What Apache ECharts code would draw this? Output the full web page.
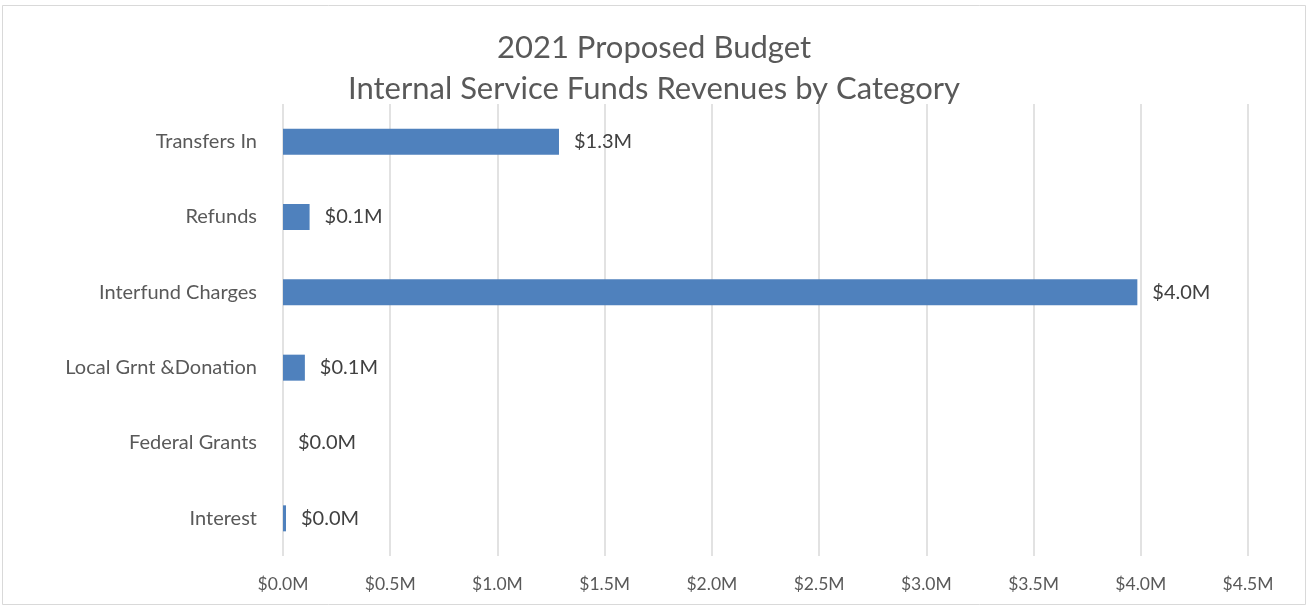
<!DOCTYPE html>
<html>
<head>
<meta charset="utf-8">
<script src="https://cdn.jsdelivr.net/npm/echarts@6/dist/echarts.min.js"></script>
<style>
html,body{margin:0;padding:0;background:#fff;}
#chart{width:1308px;height:608px;}
</style>
</head>
<body>
<div id="chart"></div>
<script>
const titleLines = ['2021 Proposed Budget', 'Internal Service Funds Revenues by Category'];
const categories = ['Transfers In', 'Refunds', 'Interfund Charges', 'Local Grnt &Donation', 'Federal Grants', 'Interest'];
const values = [1.287, 0.124, 3.984, 0.102, 0.0, 0.014];
const xTicks = [0, 0.5, 1.0, 1.5, 2.0, 2.5, 3.0, 3.5, 4.0, 4.5];

const FONT = 'Lato';
const chart = echarts.init(document.getElementById('chart'), null, {renderer: 'canvas'});
chart.setOption({
  backgroundColor: '#ffffff',
  animation: false,
  title: {
    text: titleLines.join('\n'),
    left: 'center',
    top: 22,
    textStyle: {fontFamily: FONT, fontSize: 31, fontWeight: 'normal', color: '#595959', lineHeight: 41}
  },
  graphic: [{
    type: 'rect', silent: true,
    shape: {x: 2.5, y: 5.5, width: 1303, height: 599},
    style: {fill: 'none', stroke: '#d9d9d9', lineWidth: 1}
  }],
  grid: {left: 283, right: 60, top: 104, bottom: 52, containLabel: false},
  xAxis: {
    type: 'value', min: xTicks[0], max: xTicks[xTicks.length - 1], interval: 0.5,
    axisLine: {show: false}, axisTick: {show: false},
    splitLine: {show: true, lineStyle: {color: '#d9d9d9', width: 1.5}},
    axisLabel: {
      margin: 19, fontFamily: FONT, fontSize: 17.5, color: '#595959',
      formatter: v => '$' + v.toFixed(1) + 'M'
    }
  },
  yAxis: {
    type: 'category', data: categories, inverse: true,
    axisLine: {show: false}, axisTick: {show: false}, splitLine: {show: false},
    axisLabel: {margin: 26, fontFamily: FONT, fontSize: 20, color: '#595959'}
  },
  series: [{
    type: 'bar', data: values, barWidth: 26,
    itemStyle: {color: '#4f81bd'},
    label: {
      show: true, position: 'right', distance: 15,
      fontFamily: FONT, fontSize: 20, color: '#404040',
      formatter: p => '$' + p.value.toFixed(1) + 'M'
    }
  }]
});
</script>
</body>
</html>
